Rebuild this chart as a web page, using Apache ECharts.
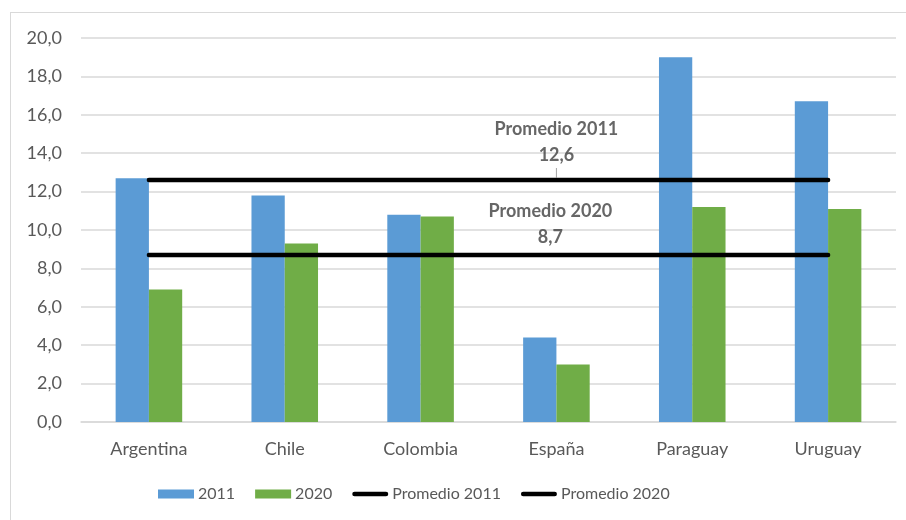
<!DOCTYPE html>
<html>
<head>
<meta charset="utf-8">
<script src="https://cdn.jsdelivr.net/npm/echarts@6/dist/echarts.min.js"></script>
<style>
  html, body { margin: 0; padding: 0; background: #fff; overflow: hidden; }
  #frame { position: absolute; left: 10px; top: 12px; width: 920px; height: 540px; border: 1.5px solid #d9d9d9; box-sizing: border-box; }
  #chart { position: absolute; left: 0; top: 0; width: 906px; height: 520px; }
</style>
</head>
<body>
<div id="frame"></div>
<div id="chart"></div>
<script>
// Países comparados
const categories = ['Argentina', 'Chile', 'Colombia', 'España', 'Paraguay', 'Uruguay'];
// Valores por año
const values2011 = [12.7, 11.8, 10.8, 4.4, 19.0, 16.7];
const values2020 = [6.9, 9.3, 10.7, 3.0, 11.2, 11.1];
// Promedios
const promedio2011 = 12.6;
const promedio2020 = 8.7;
// Ticks del eje Y
const yMin = 0, yMax = 20, yStep = 2;
// Categoría donde se rotula cada promedio
const labelCategory = 'España';

const fmt = v => v.toFixed(1).replace('.', ',');
const FONT = 'Lato, "Open Sans", sans-serif';
// Icono de leyenda: trazo horizontal grueso con extremos redondeados
const LINE_ICON = 'path://M2.5,0 L37.5,0 A2.5,2.5 0 0 1 37.5,5 L2.5,5 A2.5,2.5 0 0 1 2.5,0 Z';

const titleRich = {
  t: { fontFamily: FONT, fontSize: 18, fontWeight: 'bold', color: '#404040', lineHeight: 26, align: 'center' },
  v: { fontFamily: FONT, fontSize: 18, fontWeight: 'bold', color: '#404040', lineHeight: 26, align: 'center' },
  l: { width: 1, height: 10, backgroundColor: '#8c8c8c', align: 'center' }
};

// Línea horizontal de promedio
function avgLine(name, value) {
  return {
    name: name,
    type: 'line',
    symbol: 'none',
    symbolKeepAspect: true,
    z: 5,
    lineStyle: { color: '#000', width: 4.5, cap: 'round' },
    itemStyle: { color: '#000' },
    data: categories.map(() => value)
  };
}

// Rótulo del promedio sobre su línea
function avgLabel(value, labelOpts) {
  return {
    name: 'rotulo',
    type: 'scatter',
    silent: true,
    z: 6,
    symbolSize: 0,
    itemStyle: { color: 'transparent' },
    data: [[labelCategory, value]],
    label: Object.assign({
      show: true,
      fontFamily: FONT, fontSize: 18, fontWeight: 'bold', color: '#404040',
      rich: titleRich
    }, labelOpts)
  };
}

const chart = echarts.init(document.getElementById('chart'), null, { renderer: 'canvas' });
chart.setOption({
  animation: false,
  backgroundColor: 'transparent',
  grid: { left: 81, right: 10, top: 38, bottom: 98, containLabel: false },
  legend: {
    bottom: 13,
    left: 153,
    itemGap: 20,
    itemWidth: 36,
    itemHeight: 9,
    textStyle: { fontFamily: FONT, fontSize: 16, color: '#595959', padding: [0, 0, 0, -1] },
    data: [
      { name: '2011', icon: 'rect' },
      { name: '2020', icon: 'rect' },
      { name: 'Promedio 2011', icon: LINE_ICON },
      { name: 'Promedio 2020', icon: LINE_ICON }
    ]
  },
  xAxis: {
    type: 'category',
    data: categories,
    boundaryGap: true,
    axisTick: { show: false },
    axisLine: { lineStyle: { color: '#d9d9d9', width: 1.5 } },
    axisLabel: { fontFamily: FONT, fontSize: 18, color: '#595959', margin: 18 }
  },
  yAxis: {
    type: 'value',
    min: yMin,
    max: yMax,
    interval: yStep,
    axisLine: { show: false },
    axisTick: { show: false },
    splitLine: { lineStyle: { color: '#d9d9d9', width: 1.5 } },
    axisLabel: { fontFamily: FONT, fontSize: 18, color: '#595959', margin: 19, formatter: v => fmt(v) }
  },
  series: [
    {
      name: '2011', type: 'bar', data: values2011,
      itemStyle: { color: '#5B9BD5' },
      barGap: '0%', barCategoryGap: '51%'
    },
    {
      name: '2020', type: 'bar', data: values2020,
      itemStyle: { color: '#70AD47' }
    },
    avgLine('Promedio 2011', promedio2011),
    avgLine('Promedio 2020', promedio2020),
    avgLabel(promedio2011, {
      position: 'top', distance: 2,
      formatter: '{t|Promedio 2011}\n{v|' + fmt(promedio2011) + '}\n{l|}'
    }),
    avgLabel(promedio2020, {
      position: 'top', distance: 5, offset: [-6, 0],
      formatter: '{t|Promedio 2020}\n{v|' + fmt(promedio2020) + '}'
    })
  ]
});
</script>
</body>
</html>
